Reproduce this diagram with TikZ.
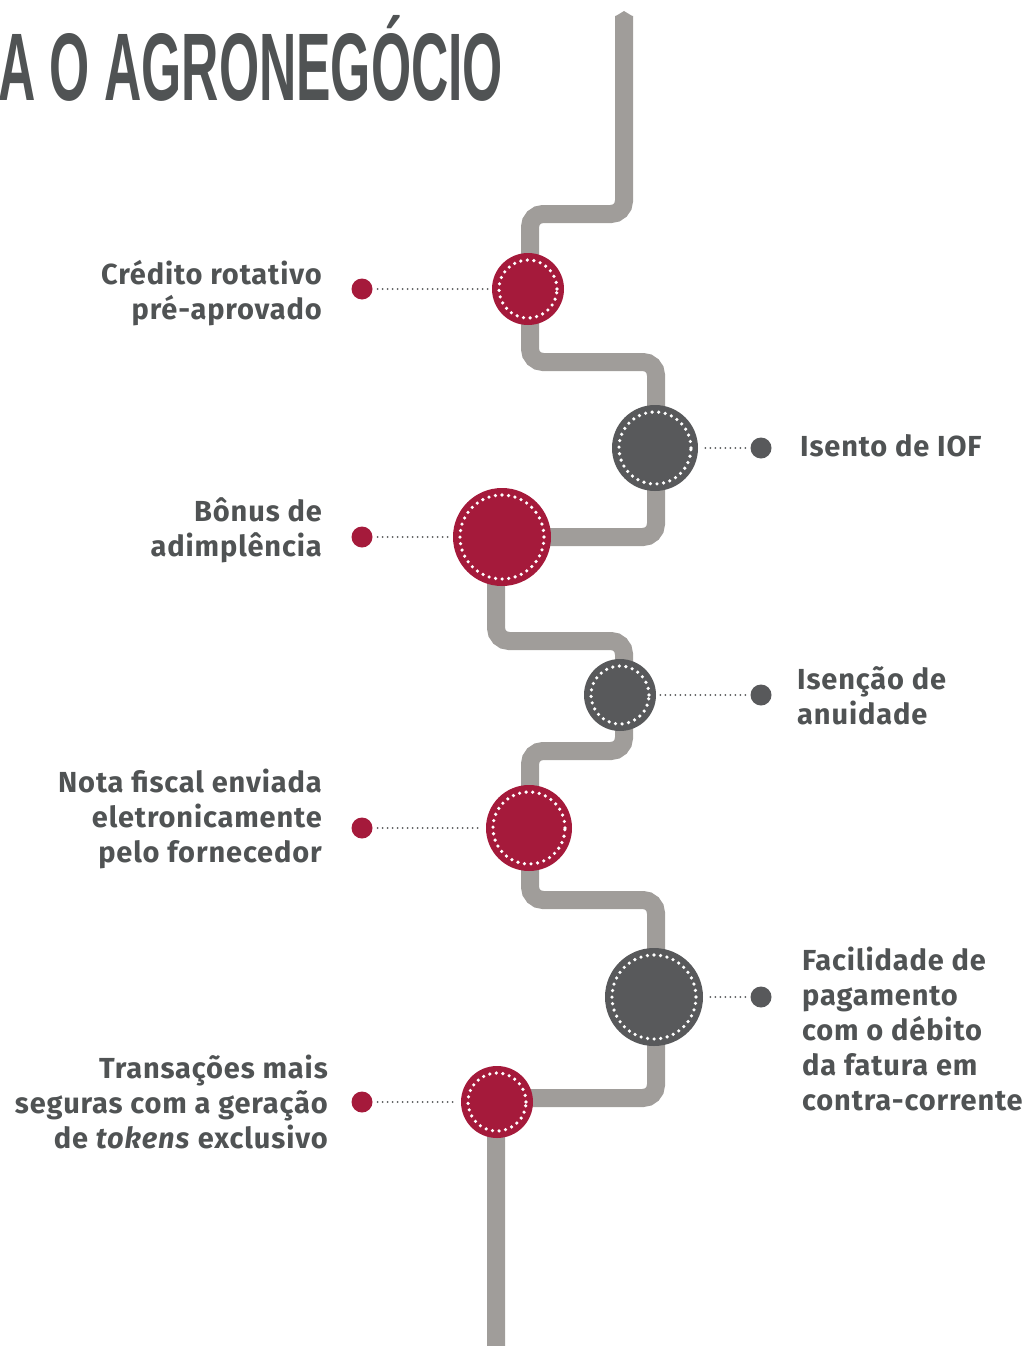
\documentclass[tikz,border=0pt]{standalone}
\usepackage{fontspec}
\setmainfont{Fira Sans}
\newfontfamily\titulofonte{Liberation Sans}

\definecolor{vinho}{HTML}{A51A3B}
\definecolor{grafite}{HTML}{58595B}
\definecolor{trilho}{HTML}{A09D9A}
\definecolor{texto}{HTML}{505354}

\tikzset{
	trilha/.style = {draw=trilho, line width=18pt, rounded corners=13pt},
	marco/.style = {circle, inner sep=0pt, fill=#1},
	anel/.style = {draw=white, line width=3.6pt, line cap=round, dash pattern=on 0pt off 6.6pt},
	ponto/.style = {circle, inner sep=0pt, minimum size=21pt, fill=#1},
	ligacao/.style = {draw=grafite, line width=2pt, line cap=round, dash pattern=on 0pt off 5pt, shorten <=5pt, shorten >=4pt},
	rotulo/.style = {inner sep=0pt, text=texto, font=\fontsize{29}{35}\selectfont\bfseries\addfontfeature{LetterSpace=3}}
}

% circulo da trilha com anel pontilhado
\newcommand{\etapa}[4]{%
	\node[marco=#4, minimum size=2*#3] (#1) at (#2) {};
	\draw[anel] (#1.center) circle[radius={(#3-7)*1pt}];
}

\begin{document}
\begin{tikzpicture}[x=1pt, y=-1pt]
	\useasboundingbox (0,0) rectangle (1027,1346);

	% titulo
	\node[anchor=base west, inner sep=0pt, text=texto] (titulo) at (-2,100)
		{\titulofonte\bfseries\fontsize{96}{96}\selectfont\resizebox{505pt}{\height}{A O AGRONEGÓCIO}};

	% trilha
	\draw[trilha] (624,16) -- (624,214) -- (530,214) -- (530,362) -- (656,362) -- (656,537)
		-- (496,537) -- (496,641) -- (624,641) -- (624,751) -- (530,751) -- (530,900)
		-- (656,900) -- (656,1098) -- (496,1098) -- (496,1346);
	\fill[trilho] (615,16.5) -- (624,11) -- (633,16.5) -- cycle;

	% etapas
	\etapa{c1}{528,289}{36}{vinho}
	\etapa{c2}{655,448}{43}{grafite}
	\etapa{c3}{502,537}{49}{vinho}
	\etapa{c4}{620,695}{36}{grafite}
	\etapa{c5}{529,828}{43}{vinho}
	\etapa{c6}{654,997}{49}{grafite}
	\etapa{c7}{497,1102}{36}{vinho}

	% pontos
	\node[ponto=vinho] (p1) at (362,289) {};
	\node[ponto=grafite] (p2) at (761,448) {};
	\node[ponto=vinho] (p3) at (362,537) {};
	\node[ponto=grafite] (p4) at (761,695) {};
	\node[ponto=vinho] (p5) at (362,828) {};
	\node[ponto=grafite] (p6) at (761,997) {};
	\node[ponto=vinho] (p7) at (362,1102) {};

	\foreach \i in {1,...,7}
		\draw[ligacao] (p\i) -- (c\i);

	% rotulos
	\node[rotulo, anchor=east, align=right] (t1) at (322,293) {Crédito rotativo\\pré-aprovado};
	\node[rotulo, anchor=west, align=left] (t2) at (800,446) {Isento de IOF};
	\node[rotulo, anchor=east, align=right] (t3) at (322,530) {Bônus de\\adimplência};
	\node[rotulo, anchor=west, align=left] (t4) at (797,696) {Isenção de\\anuidade};
	\node[rotulo, anchor=east, align=right] (t5) at (322,819) {Nota fiscal enviada\\eletronicamente\\pelo fornecedor};
	\node[rotulo, anchor=west, align=left] (t6) at (802,1029) {Facilidade de\\pagamento\\com o débito\\da fatura em\\contra-corrente};
	\node[rotulo, anchor=east, align=right] (t7) at (328,1102) {Transações mais\\seguras com a geração\\de \textit{tokens} exclusivo};
\end{tikzpicture}
\end{document}
